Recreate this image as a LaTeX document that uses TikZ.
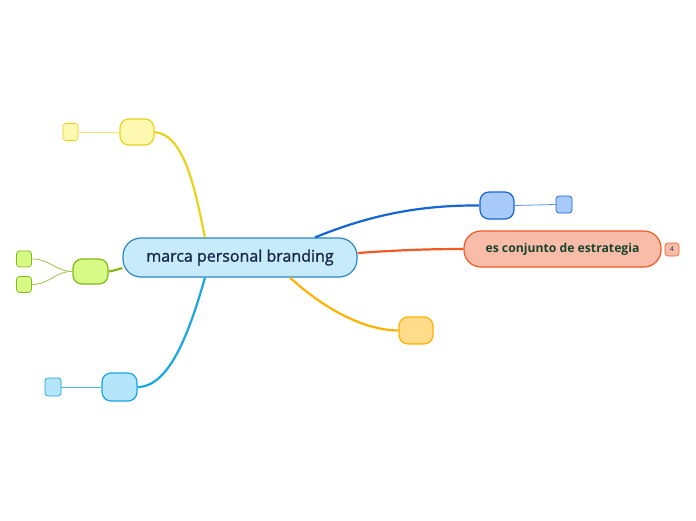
\documentclass[tikz,border=0pt]{standalone}
\usepackage{fontspec}
\setmainfont{Open Sans}
\newfontfamily\semib[FakeBold=1.3]{Open Sans}
\begin{document}
\begin{tikzpicture}[x=1pt,y=-1pt,
  box/.style={draw,rounded corners=#1,line width=1.2pt,inner sep=0pt,anchor=center},
  box/.default=9pt,
  branch/.style={line width=2.2pt},
  twig/.style={line width=0.8pt}]
\useasboundingbox[fill=white] (0,0) rectangle (696,520);
\definecolor{cenF}{HTML}{C7EBFB}\definecolor{cenD}{HTML}{2C86C2}
\definecolor{redF}{HTML}{F9BCA9}\definecolor{redD}{HTML}{F05A24}
\definecolor{yelF}{HTML}{FFF8B0}\definecolor{yelD}{HTML}{E9D31B}
\definecolor{grnF}{HTML}{D7F985}\definecolor{grnD}{HTML}{84B81B}
\definecolor{bluF}{HTML}{A9CBFA}\definecolor{bluD}{HTML}{1565D6}
\definecolor{cyaF}{HTML}{B4E5FB}\definecolor{cyaD}{HTML}{1AA7E4}
\definecolor{orgF}{HTML}{FFDB8A}\definecolor{orgD}{HTML}{FFB300}
\definecolor{txtC}{HTML}{17284A}\definecolor{txtR}{HTML}{18442C}

\coordinate (cY) at (205,238);
\coordinate (cB) at (315,238);
\coordinate (cR) at (357,253);
\coordinate (cO) at (290,277);
\coordinate (cC) at (205,277);
\coordinate (cG) at (123,268);

\node[box=18pt,fill=cenF,draw=cenD,minimum width=234pt,minimum height=39pt,
  font=\semib\fontsize{16}{18}\selectfont,text=txtC] (cen) at (240,257.5) {marca personal branding};
\node[box=17pt,fill=redF,draw=redD,minimum width=197pt,minimum height=36pt,
  font=\fontsize{12.2}{14}\selectfont\bfseries,text=txtR] (red) at (562.5,249) {es conjunto de estrategia};
\node[box=3pt,fill=redF,draw=redD,line width=0.6pt,minimum width=14pt,minimum height=13pt,
  font=\fontsize{6.5}{7}\selectfont,text=txtC] (badge) at (672,249.5) {4};

\node[box=9pt,fill=yelF,draw=yelD,minimum width=34pt,minimum height=26pt] (yel) at (137,132) {};
\node[box=3pt,fill=yelF,draw=yelD,line width=0.7pt,minimum width=15pt,minimum height=17pt] (yel1) at (70.5,132) {};

\node[box=9pt,fill=grnF,draw=grnD,minimum width=35pt,minimum height=25pt] (grn) at (90.5,271.5) {};
\node[box=3pt,fill=grnF,draw=grnD,line width=0.7pt,minimum width=15pt,minimum height=16pt] (grn1) at (24,259) {};
\node[box=3pt,fill=grnF,draw=grnD,line width=0.7pt,minimum width=15pt,minimum height=16pt] (grn2) at (24,284.5) {};

\node[box=9pt,fill=bluF,draw=bluD,minimum width=34pt,minimum height=27pt] (blu) at (497,205.5) {};
\node[box=3pt,fill=bluF,draw=bluD,line width=0.7pt,minimum width=16pt,minimum height=17pt] (blu1) at (564,204.5) {};

\node[box=9pt,fill=cyaF,draw=cyaD,minimum width=35pt,minimum height=28pt] (cya) at (119.5,387) {};
\node[box=3pt,fill=cyaF,draw=cyaD,line width=0.7pt,minimum width=16pt,minimum height=18pt] (cya1) at (53,387) {};

\node[box=9pt,fill=orgF,draw=orgD,minimum width=34pt,minimum height=27pt] (org) at (416,330.5) {};

\draw[branch,yelD] (cen.north -| cY) .. controls (195,190) and (185,135) .. (yel.east);
\draw[branch,bluD] (cen.north -| cB) .. controls (370,215) and (420,205) .. (blu.west);
\draw[branch,redD] (cen.east |- cR) .. controls (400,250) and (430,249) .. (red.west);
\draw[branch,orgD] (cen.south -| cO) .. controls (320,305) and (360,330) .. (org.west);
\draw[branch,cyaD] (cen.south -| cC) .. controls (190,330) and (170,387) .. (cya.east);
\draw[branch,grnD] (cen.west |- cG) .. controls (116,270) and (112,271) .. (grn.east);

\draw[twig,yelD!60] (yel.west) -- (yel1.east);
\draw[twig,bluD!70] (blu.east) -- (blu1.west);
\draw[twig,cyaD!80] (cya.west) -- (cya1.east);
\draw[twig,grnD!80] (grn.west) .. controls (55,271) and (50,259) .. (grn1.east);
\draw[twig,grnD!80] (grn.west) .. controls (55,271) and (50,284.5) .. (grn2.east);
\end{tikzpicture}
\end{document}
